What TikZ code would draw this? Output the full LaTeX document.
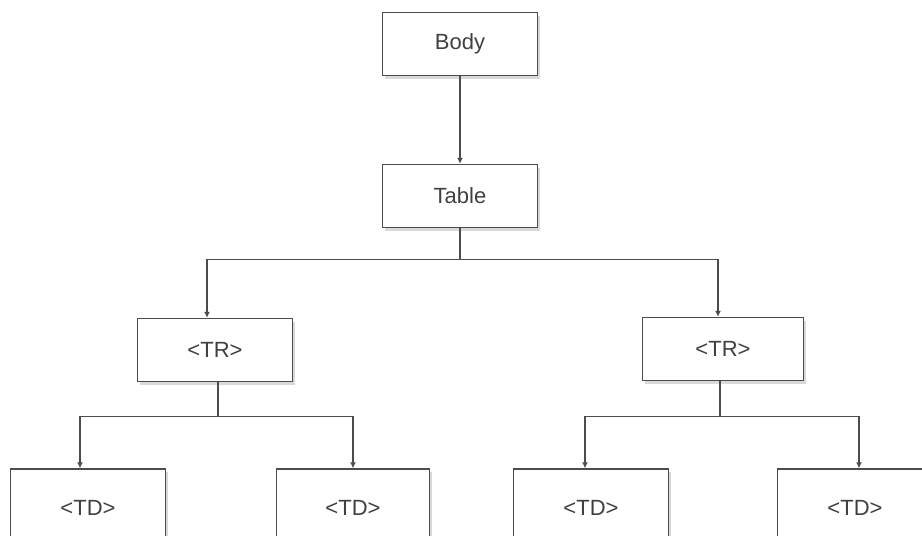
\documentclass[tikz,border=0pt]{standalone}
\usepackage{fontspec}
\setmainfont{Liberation Sans}
\usetikzlibrary{arrows.meta,shadows}

\tikzset{
  boite/.style={draw=black!70, line width=1.4pt, fill=white, minimum width=155pt,
    minimum height=63pt, font=\fontsize{22}{26}\selectfont, text=black!75,
    drop shadow={shadow xshift=2pt, shadow yshift=-3pt, fill=black!25, opacity=.6}},
  lien/.style={draw=black!70, line width=1.4pt, -{Latex[length=6pt,width=6pt]}}
}

\begin{document}
\begin{tikzpicture}[x=1pt,y=-1pt]
   \useasboundingbox (0,0) rectangle (922,536);
   \node[boite] (body) at (460,44) {Body};
   \node[boite] (table) at (460,196) {Table};
   \node[boite] (trg) at (215,350) {<TR>};
   \node[boite, minimum width=161pt] (trd) at (723,349) {<TR>};
   \node[boite, minimum height=78pt] (tdA) at (88,508) {<TD>};
   \node[boite, minimum width=153pt, minimum height=78pt] (tdB) at (353,508) {<TD>};
   \node[boite, minimum height=78pt] (tdC) at (591,508) {<TD>};
   \node[boite, minimum height=78pt] (tdD) at (855,508) {<TD>};

   % Liaisons entre les niveaux de l'arbre
   \draw[lien] (body) -- (table);
   \draw[lien] (table.south) -- ++(0,31) -| ([xshift=-8pt]trg.north);
   \draw[lien] (table.south) -- ++(0,31) -| ([xshift=-5pt]trd.north);
   \draw[lien] ([xshift=3pt]trg.south) -- ++(0,34) -| ([xshift=-8pt]tdA.north);
   \draw[lien] ([xshift=3pt]trg.south) -- ++(0,34) -| (tdB.north);
   \draw[lien] ([xshift=-3pt]trd.south) -- ++(0,35) -| ([xshift=-6pt]tdC.north);
   \draw[lien] ([xshift=-3pt]trd.south) -- ++(0,35) -| ([xshift=4pt]tdD.north);
\end{tikzpicture}
\end{document}
